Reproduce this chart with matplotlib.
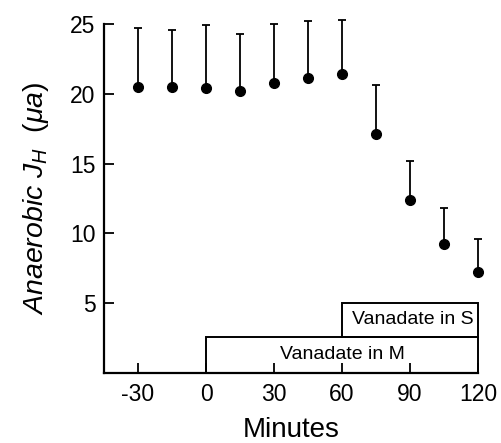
import numpy as np
import matplotlib.pyplot as plt
from matplotlib.patches import Rectangle

plt.rcParams['font.family'] = ['Liberation Sans', 'DejaVu Sans']
plt.rcParams['mathtext.fontset'] = 'custom'
plt.rcParams['mathtext.rm'] = 'Liberation Sans'
plt.rcParams['mathtext.it'] = 'Liberation Sans:italic'
plt.rcParams['axes.unicode_minus'] = False

minutes = np.array([-30, -15, 0, 15, 30, 45, 60, 75, 90, 105, 120])
jh_mean = np.array([20.5, 20.5, 20.4, 20.2, 20.8, 21.1, 21.4, 17.1, 12.4, 9.25, 7.25])
jh_top = np.array([24.7, 24.6, 24.9, 24.3, 25.0, 25.2, 25.3, 20.6, 15.2, 11.8, 9.6])
jh_err = jh_top - jh_mean

# treatment periods: (start, end, bottom, top, label)
m_period = (0, 120, 0, 2.6, "Vanadate in M")
s_period = (60, 120, 2.6, 5.0, "Vanadate in S")

fig = plt.figure(figsize=(5.01, 4.43), dpi=100)
ax = fig.add_axes([0.2076, 0.158, 0.7465, 0.788])

eb = ax.errorbar(minutes, jh_mean, yerr=[np.zeros_like(jh_err), jh_err],
                 fmt='o', color='black', markersize=7, elinewidth=1.3,
                 capsize=3, capthick=1.3)
for artist in eb.lines[0:1] + eb.lines[1] + eb.lines[2]:
    artist.set_clip_on(False)

for x0, x1, y0, y1, label in [m_period, s_period]:
    ax.add_patch(Rectangle((x0, y0), x1 - x0, y1 - y0, fill=False,
                           edgecolor='black', linewidth=1.4, clip_on=False))
ax.text(60, (m_period[2] + m_period[3]) / 2, m_period[4],
        ha='center', va='center', fontsize=14)
ax.text(118, (s_period[2] + s_period[3]) / 2, s_period[4],
        ha='right', va='center', fontsize=14)

ax.set_xlim(-45, 120)
ax.set_ylim(0, 25)
ax.set_xticks([-30, 0, 30, 60, 90, 120])
ax.set_yticks([5, 10, 15, 20, 25])
ax.tick_params(direction='in', length=7, width=1.3, labelsize=16.5)
ax.tick_params(axis='x', pad=7)
ax.tick_params(axis='y', pad=6)
ax.spines['top'].set_visible(False)
ax.spines['right'].set_visible(False)
ax.spines['left'].set_linewidth(1.6)
ax.spines['bottom'].set_linewidth(1.6)

ax.set_xlabel("Minutes", fontsize=20, labelpad=8)
ax.set_ylabel(r"$Anaerobic\ J_H\ \ (\mu a)$", fontsize=20.5, labelpad=14)

fig.savefig('out.png', dpi=100)
